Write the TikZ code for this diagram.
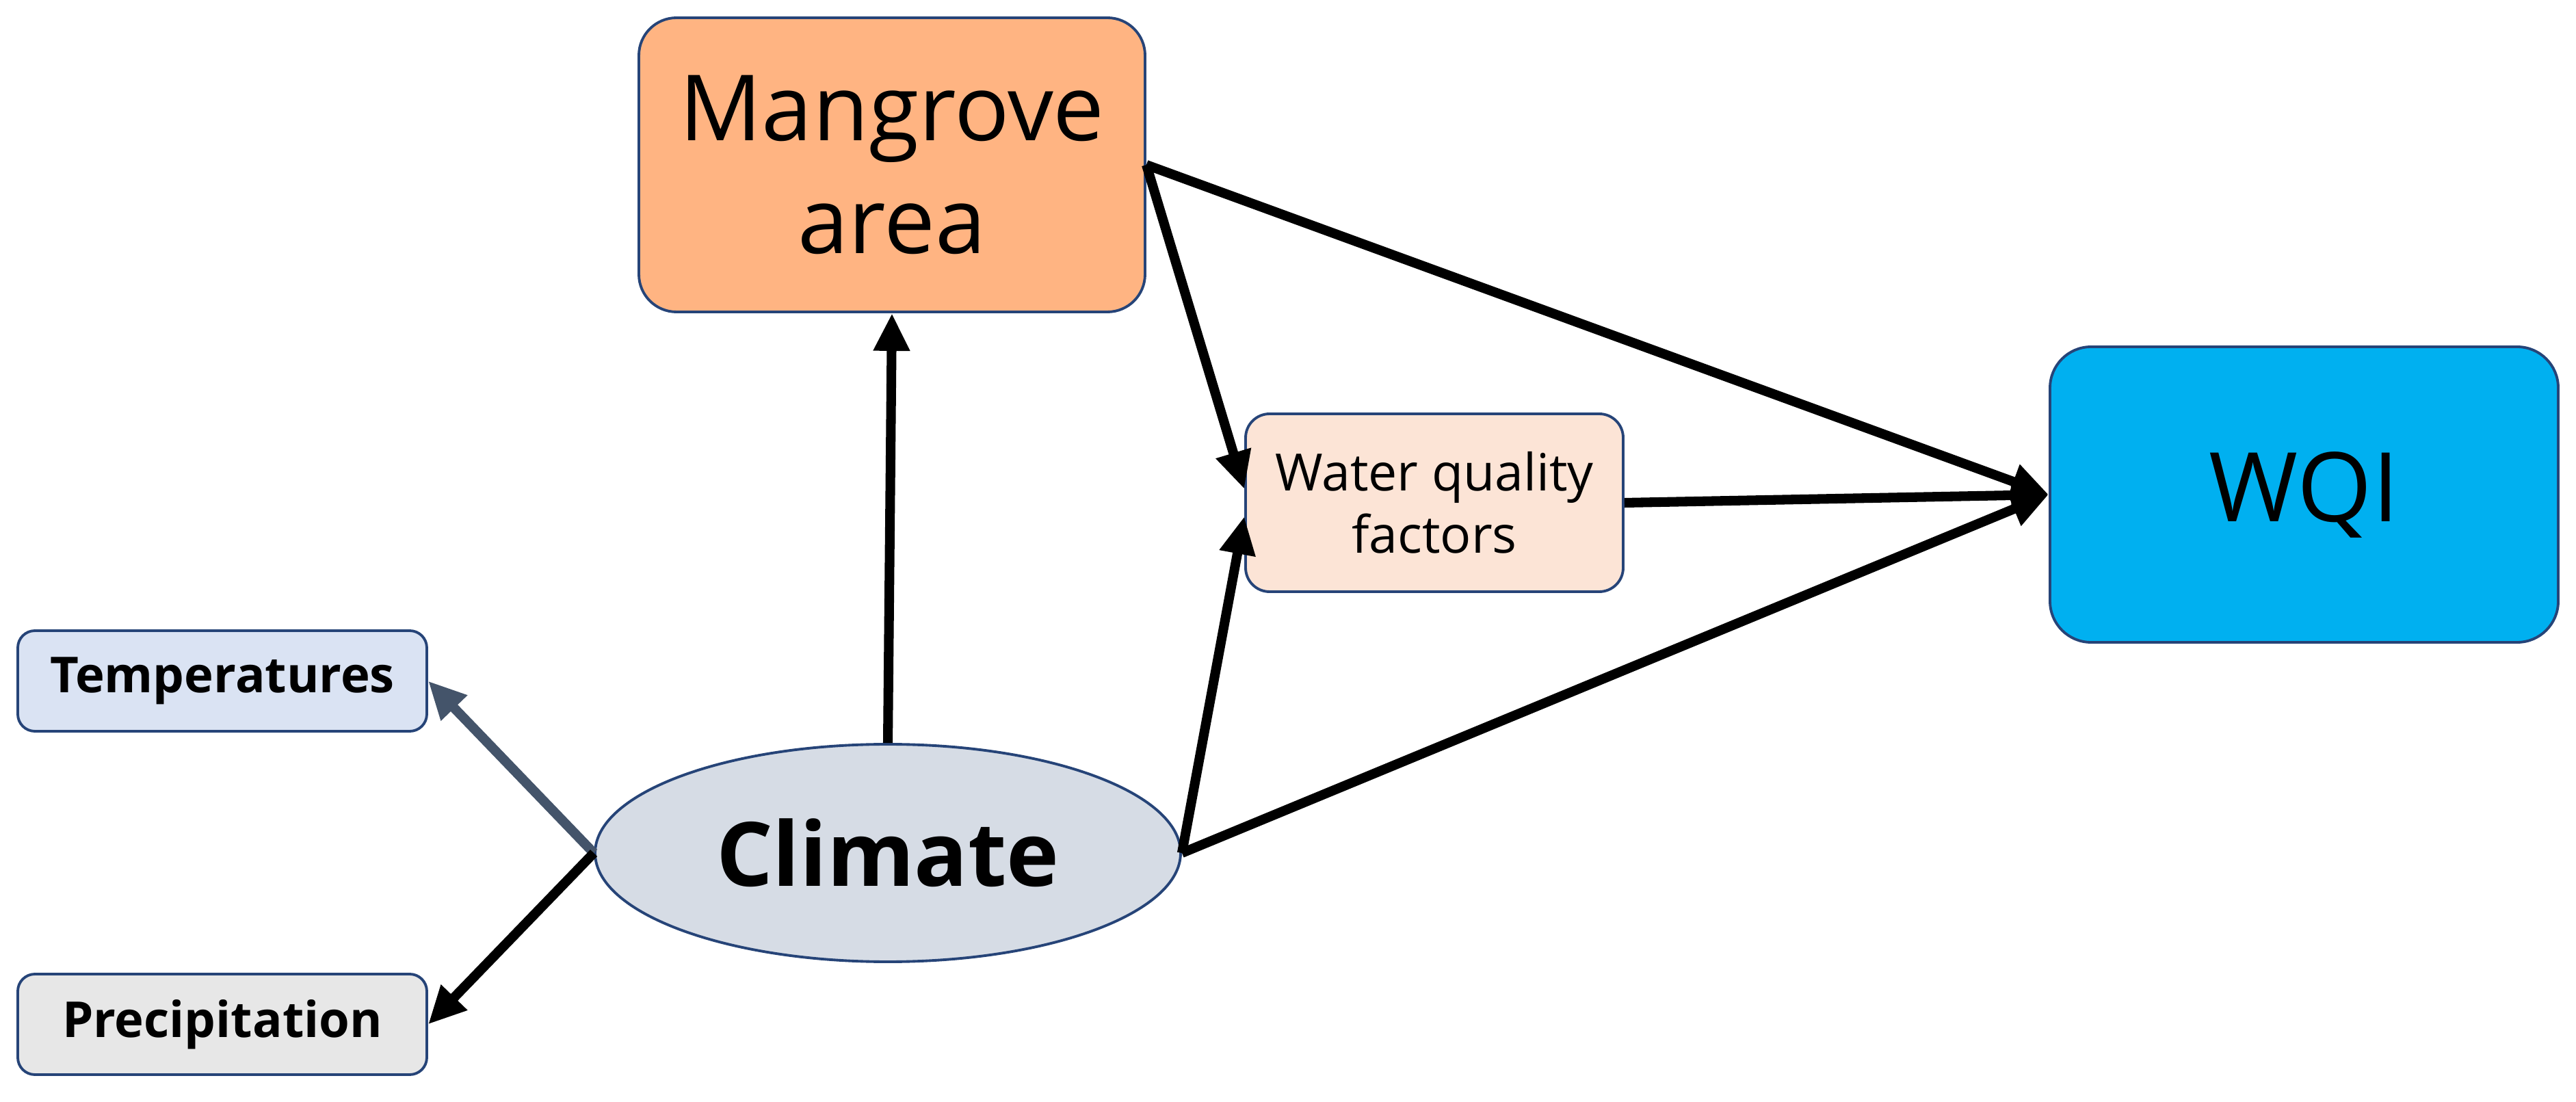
\documentclass[tikz,border=0pt]{standalone}
\usepackage{fontspec}
\setmainfont{Open Sans}
\usetikzlibrary{arrows.meta,shapes.geometric}
\definecolor{edgeblue}{RGB}{38,68,120}
\definecolor{mangrovefill}{RGB}{255,180,130}
\definecolor{factorfill}{RGB}{252,228,214}
\definecolor{wqifill}{RGB}{0,176,240}
\definecolor{tempfill}{RGB}{218,227,243}
\definecolor{precipfill}{RGB}{231,231,231}
\definecolor{climatefill}{RGB}{214,220,229}
\definecolor{slatearrow}{RGB}{68,84,106}
\begin{document}
\begin{tikzpicture}[
  box/.style={draw=edgeblue, line width=1.1pt, rounded corners=#1, align=center, inner sep=0pt},
  box/.default=0.25cm,
  bigtext/.style={font=\fontsize{38}{47}\selectfont},
  link/.style={-{Triangle[length=0.55cm,width=0.5cm]}, line width=4pt}
]
  \useasboundingbox (0,0) rectangle (37.66,16.10);
  % Main boxes
  \node[box=0.55cm, fill=mangrovefill, minimum width=7.40cm, minimum height=4.30cm, bigtext] (mangrove) at (13.04,13.69) {Mangrove\\area};
  \node[box=0.35cm, fill=factorfill, minimum width=5.52cm, minimum height=2.60cm, font=\fontsize{21.4}{26}\selectfont] (factors) at (20.97,8.75) {Water quality\\factors};
  \node[box=0.6cm, fill=wqifill, minimum width=7.43cm, minimum height=4.32cm, font=\fontsize{40}{48}\selectfont] (wqi) at (33.685,8.87) {WQI};
  % Climate and its parts
  \node[ellipse, draw=edgeblue, line width=1.1pt, fill=climatefill, minimum width=8.56cm, minimum height=3.18cm, inner sep=0pt, font=\fontsize{37}{45}\selectfont\bfseries] (climate) at (12.98,3.63) {Climate};
  \node[box, fill=tempfill, minimum width=5.98cm, minimum height=1.47cm, font=\fontsize{20.6}{25}\selectfont\bfseries] (temp) at (3.25,6.145) {Temperatures};
  \node[box, fill=precipfill, minimum width=5.98cm, minimum height=1.47cm, font=\fontsize{20.6}{25}\selectfont\bfseries] (precip) at (3.25,1.125) {Precipitation};
  % Arrows
  \draw[link] (climate.north) -- (mangrove.south);
  \draw[link] (mangrove.east) -- (wqi.west);
  \draw[link] (mangrove.east) -- ([yshift=0.2cm]factors.west);
  \draw[link] (climate.east) -- ([yshift=-0.2cm]factors.west);
  \draw[link] (climate.east) -- (wqi.west);
  \draw[link] (factors.east) -- (wqi.west);
  \draw[link, draw=slatearrow, fill=slatearrow] (climate.west) -- (temp.east);
  \draw[link] (climate.west) -- (precip.east);
\end{tikzpicture}
\end{document}
